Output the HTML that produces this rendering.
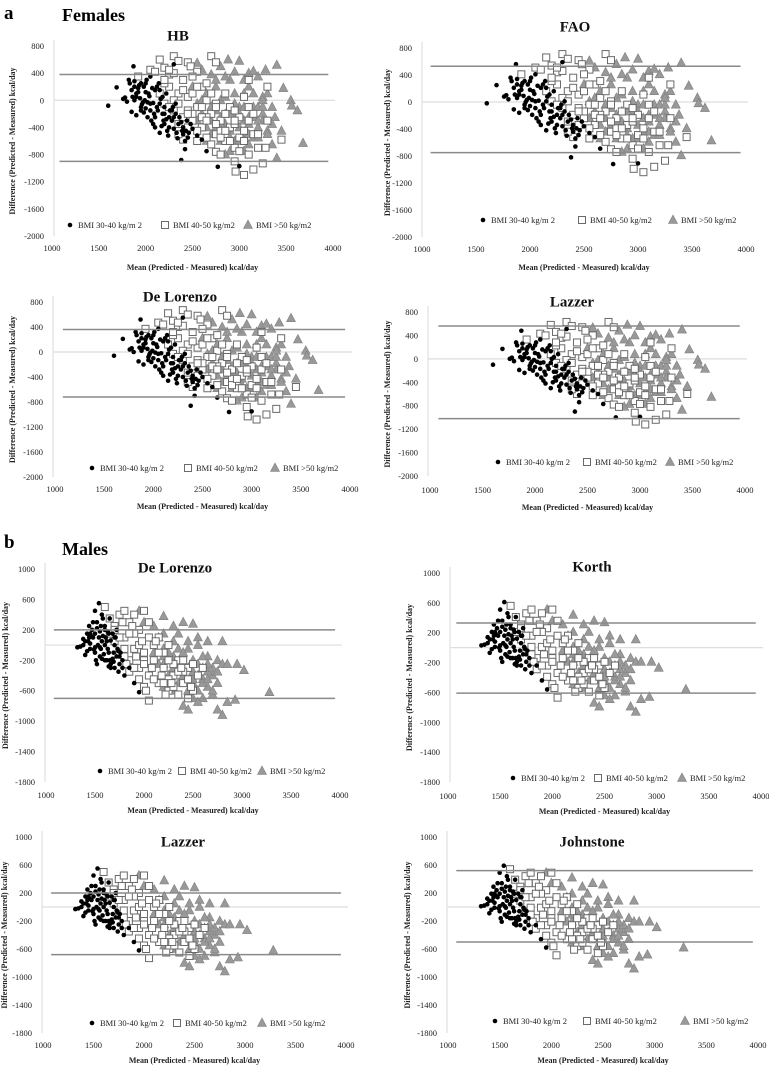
<!DOCTYPE html>
<html><head><meta charset="utf-8">
<style>
html,body{margin:0;padding:0;background:#fff;}
svg{display:block;}
text{font-family:"Liberation Serif",serif;}
</style></head>
<body>
<svg id="fig" width="769" height="1067" viewBox="0 0 769 1067" xmlns="http://www.w3.org/2000/svg">
<text x="4" y="19" font-family="Liberation Sans, sans-serif" font-weight="bold" font-size="19">a</text>
<text x="62" y="21" font-weight="bold" font-size="18">Females</text>
<text x="4" y="548" font-family="Liberation Sans, sans-serif" font-weight="bold" font-size="19">b</text>
<text x="62" y="555" font-weight="bold" font-size="18">Males</text>
</svg>
<script>
// ---- Female base data (BMI groups) ----
const femBlackX=[1600,1690,1760,1780,1800,1820,1830,1850,1870,1880,1900,1900,1920,1940,1950,1960,1980,2000,2000,2020,2040,2050,2060,2080,2100,2100,2120,2140,2150,2160,2180,2200,2220,2240,2260,2280,2300,2300,2320,2340,2360,2380,2400,2420,2440,2460,2500,2550,2600,2650,2770,3000,1950,2050,2150,2250,1880,1920,2010,2200,1860,1990,2090,2190,2290,2390,2480,1970,2070,2170,
 1850,1900,1950,2000,2050,2100,2150,2200,2250,2300,2350,2400,2450,1880,1930,1980,2030,2080,2130,2180,2230,2280,2330,2380,2430,2020,2120,2220,2320,2420];
const femBlackY=[-80,190,20,40,-20,300,250,-170,500,200,100,-220,180,30,250,-60,200,120,-120,-250,60,350,-300,-40,150,-400,-100,250,-480,20,-200,-350,100,-520,-150,-300,530,-420,-50,-560,-250,-880,-400,-720,-300,-480,-420,-520,-580,-750,-980,-970,-100,-150,-50,-250,280,120,300,-100,50,0,-200,-300,-100,-450,-350,-30,180,-380,
 150,50,-150,250,-50,-250,150,-200,-400,-250,-350,-500,-550,0,220,-180,100,-350,-150,50,-450,-150,-480,-320,-450,-30,200,-280,-200,-600];
const femSqX=[1920,2050,2100,2150,2200,2250,2300,2350,2400,2450,2480,2550,2600,2700,2750,2150,2200,2250,2300,2350,2400,2450,2500,2550,2600,2650,2700,2750,2800,2850,2900,2950,3000,2950,2960,3050,3150,3100,3200,3250,3280,3300,3300,3450,2700,2750,2800,2550,2400,2600,2850,3000,3100,2650,2500,2350,2900,3050,3100,2200,2450,2650,2800,2950,3150,2300,2500,2750,
 2200,2250,2300,2350,2400,2450,2500,2550,2600,2650,2700,2750,2800,2850,2900,2950,3000,3050,3100,3150,2350,2450,2550,2650,2750,2850,2950,3050,3200,2250];
const femSqY=[350,450,420,600,480,380,650,580,300,560,500,420,200,650,560,100,-50,200,-150,100,-250,50,-300,-100,-400,0,-200,-500,-300,-600,-400,-700,-550,-900,-1050,-1100,-1020,-800,-700,-930,-700,200,-300,-580,-650,-760,-800,-450,-580,-100,100,-250,-100,250,100,-350,-100,50,300,250,-150,-250,-450,-350,-500,0,-200,-50,
 300,-100,400,-50,150,-200,350,200,-250,-300,100,-100,-550,-200,-600,-300,-750,-450,-300,-200,-500,-400,-600,-550,-350,-450,-150,-600,-500,450];
const femTriX=[2550,2600,2700,2800,2880,2950,3000,3050,3100,3150,3200,3280,3400,3470,3550,3560,3620,3680,3400,3450,3350,3300,3250,3200,3150,3100,3050,3000,2950,2900,2850,2800,2750,2700,2650,2600,2550,2500,2900,2950,2850,3050,3100,3200,3250,3350,3150,3000,2800,2750,2650,2900,3350,3380,2850,3050,2700,3100,2950,3250,
 2600,2650,2700,2750,2800,2850,2900,2950,3000,3050,3100,3150,3200,3250,3300,2700,2800,2900,3000,3100,3200,3300,2750,2850,2950,3050,3150,3250,2650,2550];
const femTriY=[550,450,380,500,600,420,580,300,400,430,350,450,520,180,0,-80,-150,-630,-850,-450,-650,100,-200,-400,-100,-650,-300,-100,100,-450,-200,0,200,-300,100,-200,-50,200,-750,-600,-800,-750,200,-100,-300,-350,-550,-400,-600,-150,-400,300,-100,-250,-350,-500,-100,-250,-200,50,
 0,-300,-100,-400,-250,50,-200,-350,-600,-100,-350,-250,-550,-100,-450,-500,-350,-550,-200,-500,-300,-500,300,350,-50,100,100,0,-600,-300];
// ---- Male base data ----
const malBlackX=[1320,1350,1380,1400,1420,1440,1450,1480,1500,1500,1520,1540,1550,1560,1570,1580,1600,1600,1620,1640,1650,1660,1680,1700,1700,1720,1740,1750,1780,1800,1850,1900,1950,1550,1610,1470,1530,1590,1660,1730,1430,1490,1570,1630,1690,1760,1460,1520,1640,1710,
 1400,1450,1500,1550,1600,1650,1700,1750,1420,1480,1540,1600,1660,1720,1780,1450,1510,1570,1630,1690,1380,1440,1500,1560,1620,1680,1740,1520,1580,1640];
const malBlackY=[-30,-20,80,-130,150,250,20,100,450,-100,300,550,180,-50,400,120,-200,250,50,-100,350,-250,150,-300,0,200,-350,-150,-200,-400,-300,-500,-620,-30,100,200,0,-120,60,-50,50,-60,-180,180,-220,-100,120,220,-280,100,
 50,-50,150,-150,0,-200,100,-250,-80,300,100,200,-300,-150,-300,150,-200,50,-50,-100,0,100,-30,250,-200,-180,-80,-250,350,150];
const malSqX=[1600,1650,1700,1750,1800,1850,1900,1950,2000,2050,1700,1750,1800,1850,1900,1950,2000,2050,2100,2150,2200,2250,2300,2350,2400,2450,2500,2550,2600,2050,2000,2150,2250,2350,2450,1950,2200,2300,1800,1900,2100,2000,2400,2250,1650,1850,
 1700,1750,1800,1850,1900,1950,2000,2050,2100,2150,2200,2250,2300,2350,2400,2450,2500,1780,1880,1980,2080,2180,2280,2380,2480,1820,1920,2020,2120,2220];
const malSqY=[500,350,250,400,450,300,400,200,450,300,50,-100,100,-200,-50,-300,-100,-400,-200,-500,-300,-600,-400,-650,-500,-700,-600,-400,-300,-730,-550,100,0,-200,-300,-450,-100,-250,-50,150,0,-200,-350,-450,150,-350,
 200,100,-150,150,-300,0,-250,100,-450,-100,-500,-200,-550,-350,-200,-450,-250,300,250,50,-300,-400,-500,-300,-550,-250,-150,-600,50,-650];
const malTriX=[1950,2000,2100,2200,2300,2400,2500,2550,2650,2800,2200,2300,2400,2450,2500,2550,2600,2650,2700,2750,2800,2850,2950,3020,3280,2400,2450,2500,2600,2700,2750,2800,2850,2930,2350,2250,2150,2650,2750,2450,2550,2100,2300,2500,2600,2350,2200,
 2150,2200,2250,2300,2350,2400,2450,2500,2550,2600,2650,2700,2200,2300,2400,2500,2600,2700,2350,2450,2550,2650,2250,2350,2450,2550,2650,2750,2200,2300];
const malTriY=[450,300,250,380,250,300,280,100,50,50,-50,-150,-250,-50,-200,-400,-300,-150,-400,-200,-250,-250,-250,-330,-620,-800,-850,-700,-700,-650,-850,-920,-750,-720,-500,-400,-250,-550,-500,-600,-750,-100,-300,-500,-450,-350,-150,
 100,-250,-100,-300,-50,-400,-300,-450,-250,-500,-350,-600,-550,-600,-100,-350,-150,-300,150,50,0,-250,-200,-300,-500,-600,-450,-350,150,50];
// ---- Per-panel statistics (upper/lower limits of agreement, cloud shift) ----
const panelTitles=["HB","FAO","De Lorenzo","Lazzer","De Lorenzo","Korth","Lazzer","Johnstone"];
const upperLimits=[380,530,360,560,200,330,200,520];
const lowerLimits=[-900,-750,-720,-1020,-700,-610,-680,-500];
const cloudShift=[0,60,20,-20,0,60,0,40];
const femTicks=[800,400,0,-400,-800,-1200,-1600,-2000];
const malTicks=[1000,600,200,-200,-600,-1000,-1400,-1800];
const xTicks=[1000,1500,2000,2500,3000,3500,4000];

// layout (pixels)
const L=[
 {sex:'f',x0:52,x1:333,yT:46,yB:236,ax:54,tx:178,ty:37,ly:225,lg:[70,165,248],xl:248,xt:267,yt:13},
 {sex:'f',x0:422,x1:746,yT:48,yB:237,ax:422,tx:575,ty:28,ly:220,lg:[483,582,673],xl:249,xt:267,yt:388},
 {sex:'f',x0:55,x1:350,yT:302,yB:477,ax:53,tx:180,ty:298,ly:468,lg:[92,188,275],xl:489,xt:506,yt:13},
 {sex:'f',x0:430,x1:745,yT:312,yB:476,ax:428,tx:572,ty:303,ly:462,lg:[498,587,670],xl:490,xt:507,yt:388},
 {sex:'m',x0:46,x1:340,yT:569,yB:782,ax:45,tx:175,ty:569,ly:771,lg:[100,182,262],xl:795,xt:810,yt:6},
 {sex:'m',x0:448,x1:761,yT:573,yB:782,ax:450,tx:592,ty:568,ly:778,lg:[513,598,682],xl:796,xt:811,yt:410},
 {sex:'m',x0:43,x1:346,yT:837,yB:1033,ax:42,tx:183,ty:843,ly:1023,lg:[92,177,262],xl:1045,xt:1060,yt:5},
 {sex:'m',x0:448,x1:758,yT:837,yB:1033,ax:447,tx:592,ty:843,ly:1021,lg:[495,587,685],xl:1045,xt:1060,yt:408}
];
const NS='http://www.w3.org/2000/svg';
const svg=document.getElementById('fig');
function mk(tag,attrs,parent){const e=document.createElementNS(NS,tag);for(const k in attrs)e.setAttribute(k,attrs[k]);(parent||svg).appendChild(e);return e;}
function txt(s,attrs,parent){const e=mk('text',attrs,parent);e.textContent=s;return e;}
function dot(g,x,y){const c=mk('circle',{cx:x,cy:y,r:2.3,fill:'#000'},g);

return c;}
function sq(g,x,y){const r=mk('rect',{x:x-3.5,y:y-3.5,width:7,height:7,fill:'#fff',stroke:'#6a6a6a','stroke-width':1},g);

return r;}
function tri(g,x,y){const p=mk('polygon',{points:`${x},${y-5} ${x-4.5},${y+3.5} ${x+4.5},${y+3.5}`,fill:'#999',stroke:'#808080','stroke-width':0.6},g);

return p;}

L.forEach((p,i)=>{
  const ticks=p.sex==='f'?femTicks:malTicks;
  const vT=ticks[0],vB=ticks[ticks.length-1];
  const X=v=>p.x0+(v-1000)*(p.x1-p.x0)/3000;
  const Y=v=>p.yT+(vT-v)*(p.yB-p.yT)/(vT-vB);
  const g=mk('g',{});
  
  
  const ya=mk('line',{x1:p.ax,y1:p.yT-6,x2:p.ax,y2:p.yB,stroke:'#d9d9d9','stroke-width':1},g);
  
  
  ticks.forEach(t=>{const e=txt(String(t),{x:p.ax-10,y:Y(t)+3,'font-size':8.5,'text-anchor':'end',fill:'#222'},g);
    
    });
  xTicks.forEach(t=>{const e=txt(String(t),{x:X(t),y:p.xl+3,'font-size':8.5,'text-anchor':'middle',fill:'#222'},g);
    
    });
  const xt=txt('Mean (Predicted - Measured) kcal/day',{x:(X(1000)+X(4000))/2,y:p.xt+3,'font-size':8,'font-weight':'bold','text-anchor':'middle',fill:'#222'},g);
  
  
  const cy=(p.yT+p.yB)/2;
  const yt=txt('Difference (Predicted - Measured) kcal/day',{x:p.yt,y:cy,'font-size':8,'font-weight':'bold','text-anchor':'middle',fill:'#222',transform:`rotate(-90 ${p.yt} ${cy})`,'dominant-baseline':'middle'},g);
  
  
  const z=mk('line',{x1:p.ax,y1:Y(0),x2:X(4000)+2,y2:Y(0),stroke:'#dedede','stroke-width':1.2},g);
  
  
  const sh=cloudShift[i];
  const bx=p.sex==='f'?femBlackX:malBlackX, by=p.sex==='f'?femBlackY:malBlackY;
  const sx=p.sex==='f'?femSqX:malSqX, sy=p.sex==='f'?femSqY:malSqY;
  const tx=p.sex==='f'?femTriX:malTriX, ty=p.sex==='f'?femTriY:malTriY;
  for(let k=0;k<tx.length;k++) tri(g,X(tx[k]),Y(ty[k]+sh));
  for(let k=0;k<sx.length;k++) sq(g,X(sx[k]),Y(sy[k]+sh));
  for(let k=0;k<bx.length;k++) dot(g,X(bx[k]),Y(by[k]+sh));
  [upperLimits[i],lowerLimits[i]].forEach((v,j)=>{
    const l=mk('line',{x1:X(1080),y1:Y(v),x2:X(3950),y2:Y(v),stroke:'#8a8a8a','stroke-width':1.5},g);
    
    
  });
  const t=txt(panelTitles[i],{x:p.tx,y:p.ty,'font-size':15,'font-weight':'bold','text-anchor':'middle','dominant-baseline':'middle',fill:'#111'},g);
  
  
  const lgd=mk('g',{},g);
  
  
  const labels=['BMI 30-40 kg/m 2','BMI 40-50 kg/m2','BMI >50 kg/m2'];
  p.lg.forEach((lx,j)=>{
    if(j===0) dot(lgd,lx,p.ly); else if(j===1) sq(lgd,lx,p.ly); else tri(lgd,lx,p.ly);
    const e=txt(labels[j],{x:lx+8,y:p.ly+3,'font-size':8.5,fill:'#222'},lgd);
    
    
  });
});
</script>
</body></html>
